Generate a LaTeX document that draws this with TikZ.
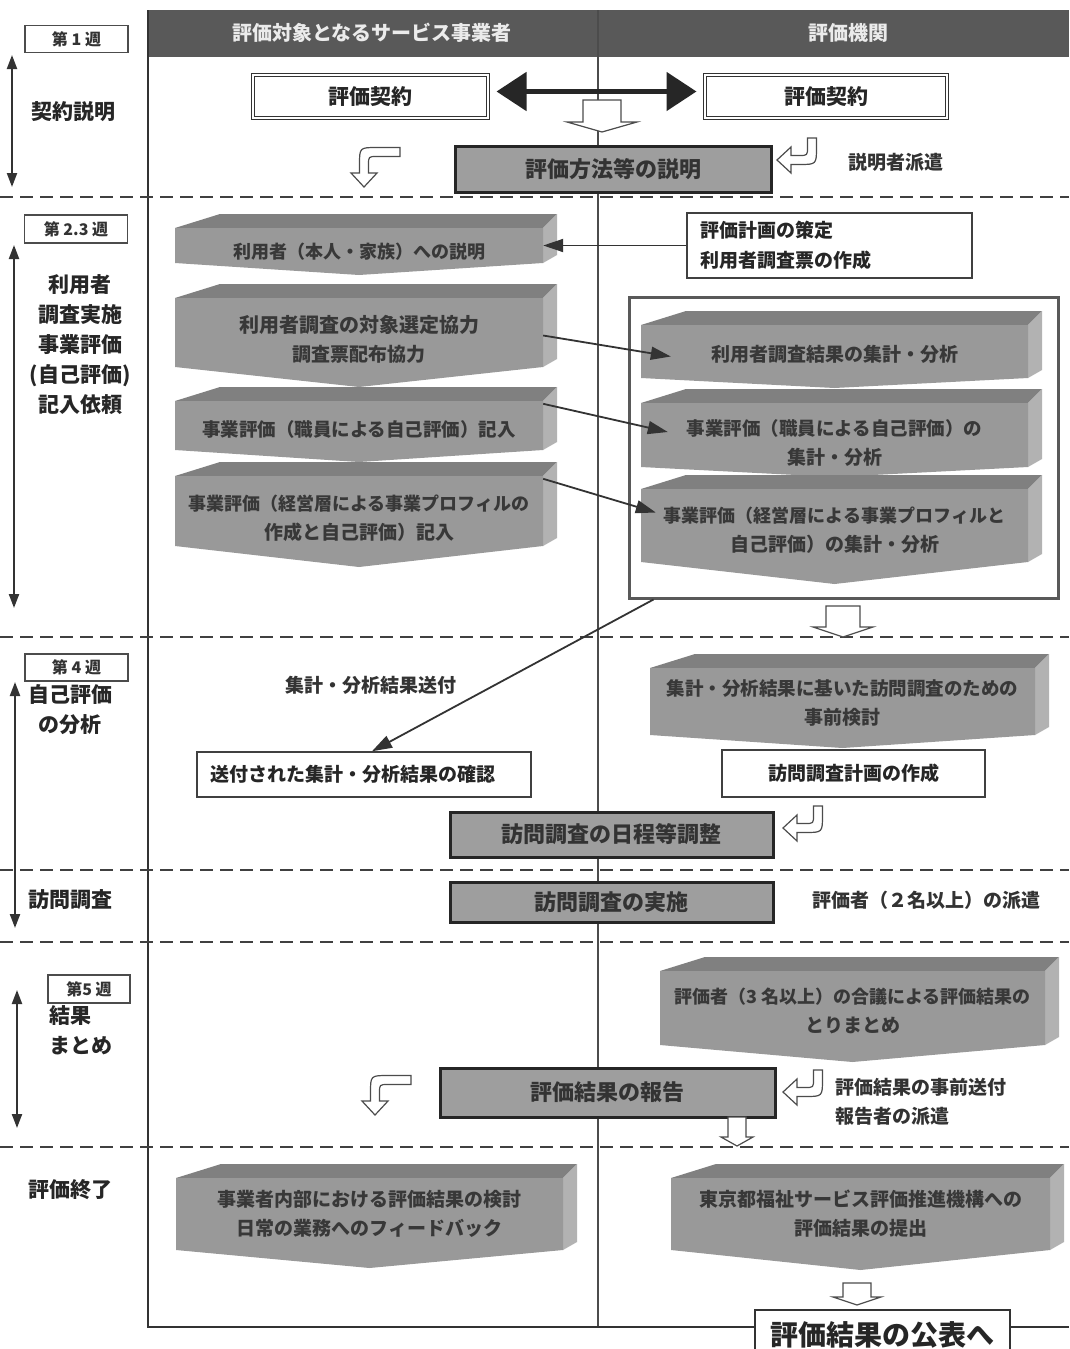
\documentclass[tikz,border=0pt]{standalone}
\usepackage{fontspec}
\setmainfont{Noto Sans CJK JP}
\usetikzlibrary{arrows.meta,calc}
\tikzset{
 lbl/.style={font=\bfseries\fontsize{21}{30}\selectfont, text=black!85, align=center},
 hdtxt/.style={font=\bfseries\fontsize{20}{24}\selectfont, text=black!8},
 tdtext/.style={font=\bfseries\fontsize{19}{29}\selectfont, text=black!78, align=center},
 tdtop/.style={fill=black!50},
 tdside/.style={fill=black!30},
 tdfront/.style={fill=black!40},
 gbox/.style={draw=black!85, line width=3pt, fill=black!38, font=\bfseries\fontsize{22}{26}\selectfont, text=black!80},
 wbox/.style={draw=black!75, line width=1.5pt, fill=white, font=\bfseries\fontsize{19}{30}\selectfont, text=black!85},
 kbox/.style={draw=black!80, line width=1pt, double=white, double distance=2pt, fill=white, font=\bfseries\fontsize{21}{26}\selectfont, text=black!85},
 weekbox/.style={draw=black!70, line width=1.2pt, fill=white, font=\bfseries\fontsize{16}{18}\selectfont, text=black!80, minimum width=103, minimum height=27},
 dashline/.style={dash pattern=on 13pt off 7pt, line width=2.5pt, draw=black!75},
 conn/.style={line width=1.8pt, draw=black!80, -{Triangle[length=20pt,width=13pt]}},
 hollow/.style={draw=black!70, line width=1.2pt, fill=white},
 vdarrow/.style={line width=2.2pt, draw=black!80, {Triangle[length=14pt,width=10pt]}-{Triangle[length=14pt,width=10pt]}},
 note/.style={font=\bfseries\fontsize{19}{29}\selectfont, text=black!80, align=left},
}
% hollow straight down arrow: cx, ytop, ybottom, shaft half width, head half width, head height
\newcommand\hdown[6]{\draw[hollow] (#1-#4,#2) -- (#1+#4,#2) -- (#1+#4,#3-#6) -- (#1+#5,#3-#6) -- (#1,#3) -- (#1-#5,#3-#6) -- (#1-#4,#3-#6) -- cycle;}
% hollow hook arrow: tail to the right, head down
\newcommand\hookdl[2]{\begin{scope}[shift={(#1,#2)}]
 \draw[hollow] (36,-4.5) -- (13,-4.5) .. controls (-4.5,-4.5) .. (-4.5,13) -- (-4.5,21) -- (-13,21) -- (0,35) -- (13,21) -- (4.5,21) -- (4.5,13) .. controls (4.5,4.5) .. (13,4.5) -- (36,4.5) -- cycle;
 \end{scope}}
% hollow hook arrow: tail up, head left
\newcommand\hookrl[2]{\begin{scope}[shift={(#1,#2)}]
 \draw[hollow] (-4.5,-22) -- (-4.5,-13) .. controls (-4.5,-4.5) .. (-13,-4.5) -- (-21,-4.5) -- (-21,-13) -- (-35,0) -- (-21,13) -- (-21,4.5) -- (-13,4.5) .. controls (4.5,4.5) .. (4.5,-13) -- (4.5,-22) -- cycle;
 \end{scope}}
% 3D gray arrow box: name, x1, y1, x2, y2, chevron depth, text y offset, text
\newcommand\tdbox[8]{%
 \fill[tdtop] (#2,#3) -- (#2+45,#3-14) -- (#4+14,#3-14) -- (#4,#3) -- cycle;
 \fill[tdside] (#4,#3) -- (#4+14,#3-14) -- (#4+14,#5-8) -- (#4,#5) -- cycle;
 \fill[tdfront] (#2,#3) -- (#4,#3) -- (#4,#5) -- ({(#2+#4)/2},#5+#6) -- (#2,#5) -- cycle;
 \node[minimum width={#4-#2}, minimum height={#5-#3}] (#1) at ({(#2+#4)/2},{(#3+#5)/2}) {};
 \node[tdtext] (#1-t) at ($(#1.center)+(0,#7)$) {#8};}
\begin{document}
\begin{tikzpicture}[x=1pt,y=-1pt, every node/.style={inner sep=0pt}]
\useasboundingbox (0,0) rectangle (1069,1349);
\fill[white] (0,0) rectangle (1069,1349);
% header
\node[fill=black!65, minimum width=921, minimum height=47] (HDR) at (608.5,33.5) {};
\node[hdtxt] (H1) at (372,33) {評価対象となるサービス事業者};
\node[hdtxt] (H2) at (848,33) {評価機関};
% frame
\draw[line width=1.2pt, black!70] (598,10) -- (598,1327);
\draw[line width=2.5pt, black!80] (148,10) -- (148,1327) -- (1069,1327);
% dashed separators
\foreach \yy in {197,637,870,942,1147} {\draw[dashline] (0,\yy) -- (1069,\yy);}
% left column
\node[weekbox] (W1) at (76.5,39) {第 1 週};
\draw[vdarrow] (12,55) -- (12,187);
\node[lbl] (T1) at (73,112) {契約説明};
\node[weekbox, minimum height=28] (W2) at (76,229) {第 2.3 週};
\draw[vdarrow] (14,245) -- (14,608);
\node[lbl] (T2) at (80,345) {利用者\\調査実施\\事業評価\\(自己評価)\\記入依頼};
\node[weekbox] (W3) at (76.5,667.5) {第 4 週};
\draw[vdarrow] (15,682) -- (15,928);
\node[lbl, text depth=0pt] (T3) at (70,708.5) {自己評価\\の分析};
\node[lbl] (T4) at (70,900) {訪問調査};
\node[weekbox, minimum width=82, minimum height=28] (W4) at (89,989) {第5 週};
\draw[vdarrow] (17,990) -- (17,1128);
\node[lbl, align=left, anchor=west] (T5) at (49,1030) {結果\\まとめ};
\node[lbl] (T6) at (70,1190) {評価終了};
% week 1
\node[kbox, minimum width=235, minimum height=43] (KL) at (370.5,96.5) {評価契約};
\node[kbox, minimum width=242, minimum height=43] (KR) at (826,96.5) {評価契約};
\draw[line width=5pt, draw=black!85, {Triangle[length=30pt,width=38pt]}-{Triangle[length=30pt,width=38pt]}] ($(KL.east)+(8,-5)$) -- ($(KR.west)+(-8,-5)$);
\hdown{602}{100}{132}{19}{35}{10}
\node[gbox, minimum width=316, minimum height=46] (EXPL) at (613,169) {評価方法等の説明};
\hookdl{364}{152}
\hookrl{812}{160}
\node[note] (N1) at (896,162) {説明者派遣};
% weeks 2-3
\node[wbox, text width=259, inner xsep=13pt, minimum height=65, align=left] (PLAN) at (829.5,245.5) {評価計画の策定\\利用者調査票の作成};
\tdbox{L1}{175}{228}{543}{263}{12}{6}{\fontsize{18}{29}\selectfont 利用者（本人・家族）への説明}
\tdbox{L2}{175}{298}{543}{367}{20}{7}{\fontsize{20}{29}\selectfont 利用者調査の対象選定協力\\調査票配布協力}
\tdbox{L3}{175}{401}{543}{450}{12}{4}{\fontsize{18.5}{29}\selectfont 事業評価（職員による自己評価）記入}
\tdbox{L4}{175}{476}{543}{546}{21}{7}{\fontsize{18}{30}\selectfont 事業評価（経営層による事業プロフィルの\\作成と自己評価）記入}
\node[draw=black!65, line width=3pt, minimum width=429, minimum height=301] (GRP) at (843.5,447.5) {};
\tdbox{R1}{641}{325}{1028}{378}{10}{3}{利用者調査結果の集計・分析}
\tdbox{R2}{641}{403}{1028}{467}{10}{8}{\fontsize{18.5}{28}\selectfont 事業評価（職員による自己評価）の\\集計・分析}
\tdbox{R3}{641}{489}{1028}{562}{22}{5}{\fontsize{18}{30}\selectfont 事業評価（経営層による事業プロフィルと\\自己評価）の集計・分析}
\draw[conn] (PLAN.west) -- (L1.east);
\draw[conn] ($(L2.east)+(0,3)$) -- ($(R1.west)+(30,5)$);
\draw[conn] ($(L3.north east)+(0,3)$) -- ($(R2.west)+(27,-3)$);
\draw[conn] ($(L4.north east)+(0,3)$) -- ($(R3.west)+(15,-13)$);
\hdown{843}{606}{637}{17}{30}{10}
% week 4
\node[wbox, text width=308, inner xsep=13pt, minimum height=45, align=left] (SENT) at (364,774.5) {送付された集計・分析結果の確認};
\draw[conn] ($(GRP.south west)+(26,0)$) -- ($(SENT.north)+(8,0)$);
\node[note] (N2) at (371,685) {集計・分析結果送付};
\tdbox{R4}{650}{668}{1035}{735}{13}{2}{\fontsize{18.5}{28}\selectfont 集計・分析結果に基いた訪問調査のための\\事前検討}
\node[wbox, minimum width=263, minimum height=47] (VPLAN) at (853.5,773.5) {訪問調査計画の作成};
\node[gbox, minimum width=323, minimum height=45] (SCHED) at (611.5,834.5) {訪問調査の日程等調整};
\hookrl{818}{828}
% visit
\node[gbox, minimum width=323, minimum height=40] (VISIT) at (611.5,902) {訪問調査の実施};
\node[note] (N3) at (926,900) {評価者（２名以上）の派遣};
% week 5
\tdbox{R5}{660}{971}{1045}{1045}{17}{3}{\fontsize{18}{28}\selectfont 評価者（3 名以上）の合議による評価結果の\\とりまとめ}
\node[gbox, minimum width=335, minimum height=49] (REPORT) at (607.5,1092.5) {評価結果の報告};
\hookrl{818}{1092}
\node[note, anchor=west] (N4) at (835,1102) {評価結果の事前送付\\報告者の派遣};
\hookdl{375}{1080}
\hdown{737}{1117}{1146}{9}{16}{9}
% end
\tdbox{L6}{176}{1178}{563}{1250}{18}{0}{事業者内部における評価結果の検討\\日常の業務へのフィードバック}
\tdbox{R6}{671}{1178}{1050}{1250}{20}{0}{東京都福祉サービス評価推進機構への\\評価結果の提出}
\hdown{857}{1283}{1305}{14}{24}{8}
\node[draw=black!80, line width=2pt, fill=white, minimum width=255, minimum height=50, font=\bfseries\fontsize{28}{32}\selectfont, text=black!85] (PUB) at (882.5,1335) {評価結果の公表へ};
\end{tikzpicture}
\end{document}
